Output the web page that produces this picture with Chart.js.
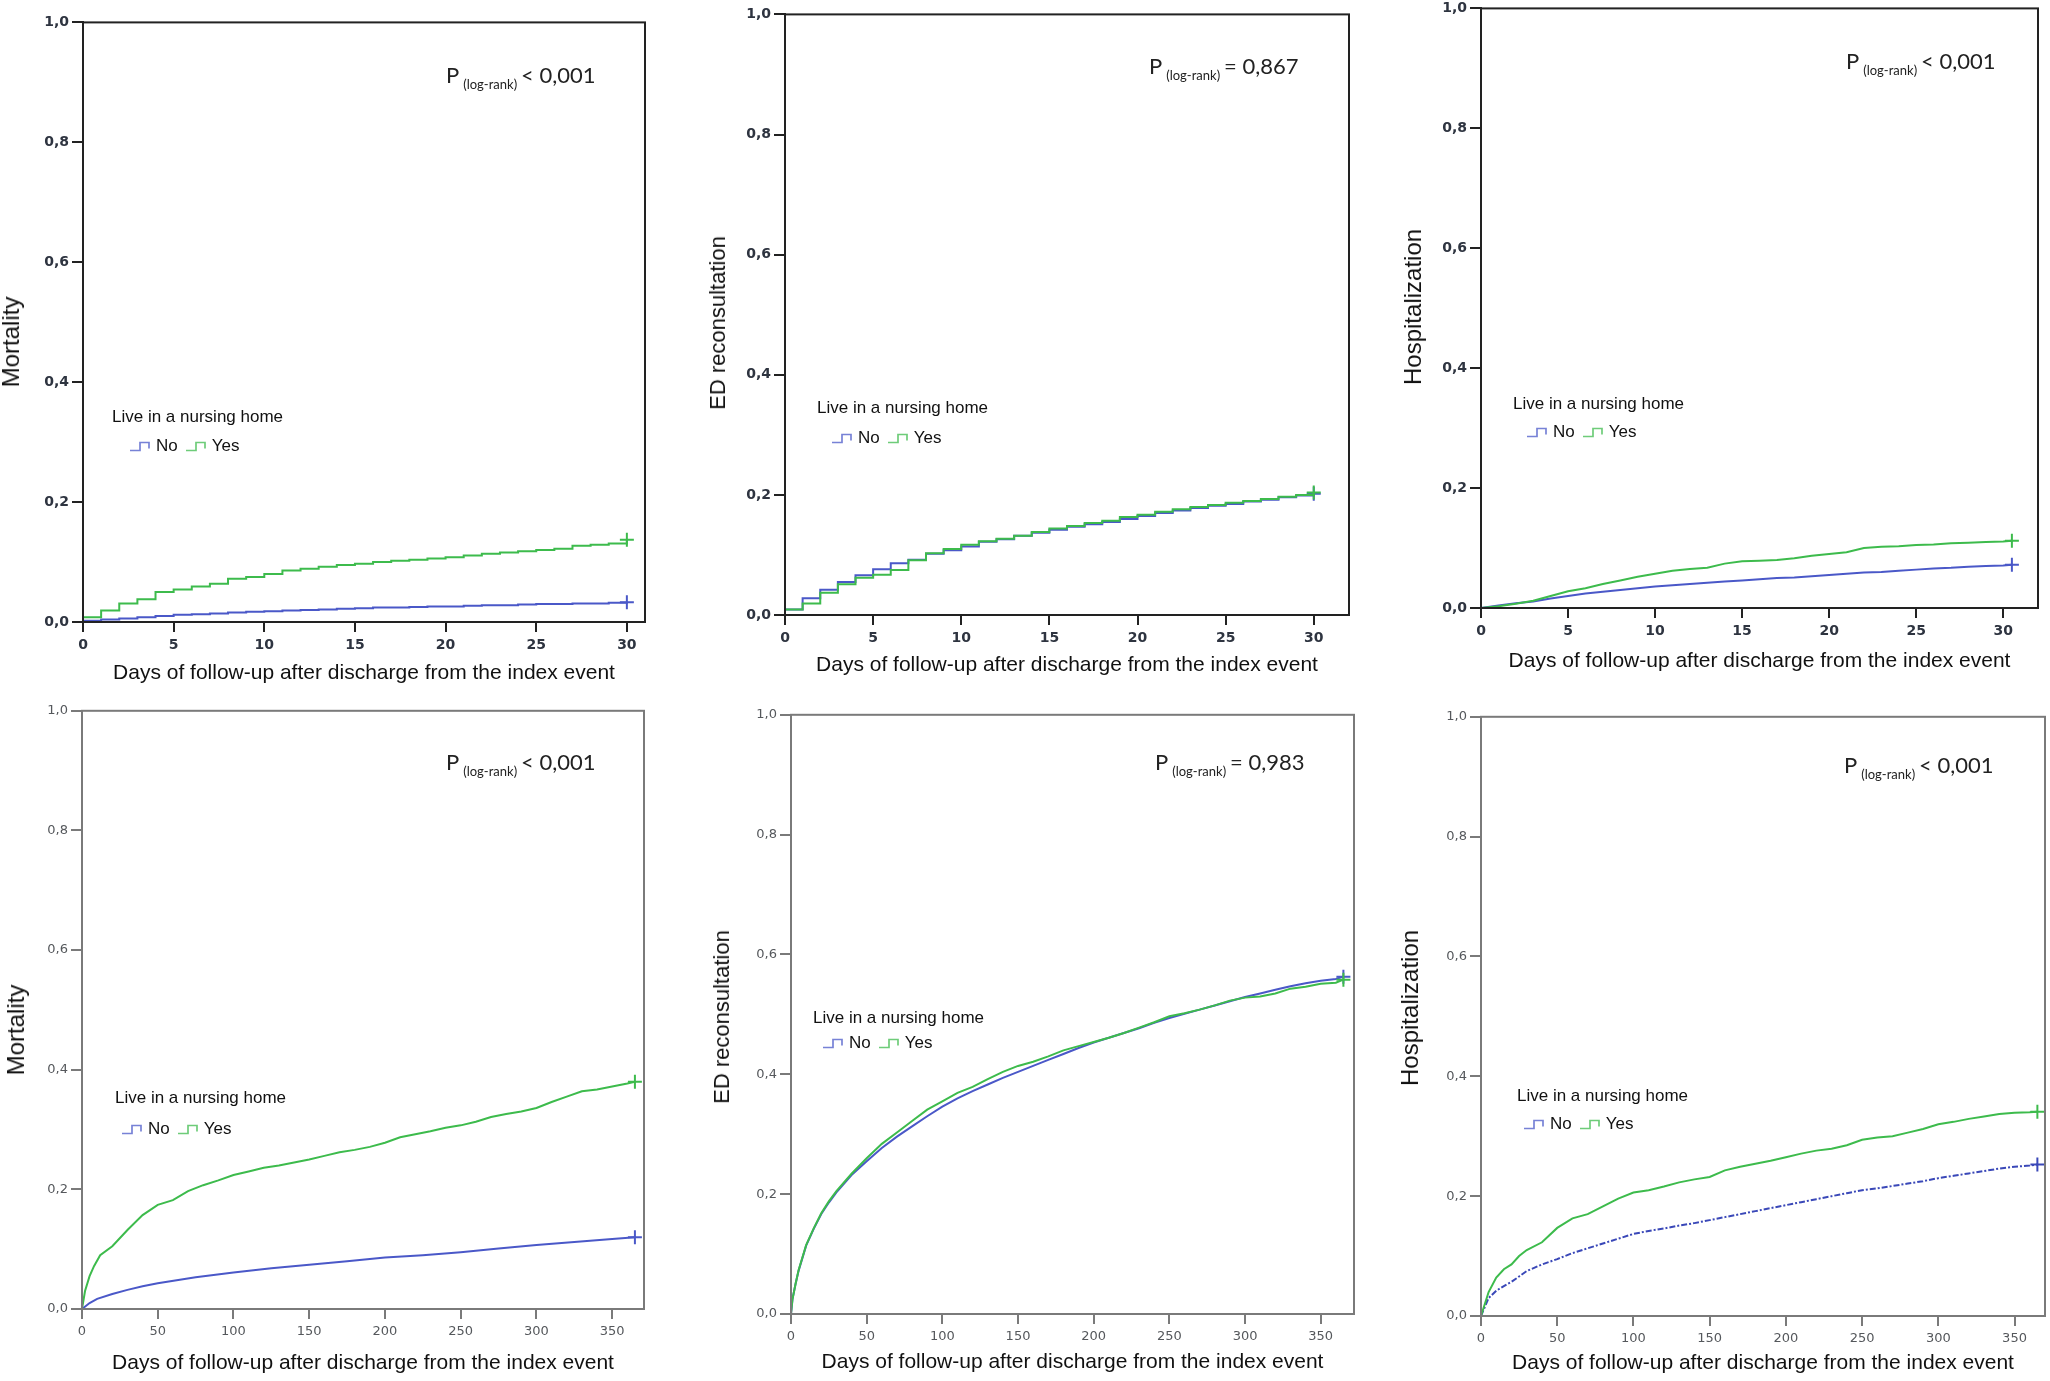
<!DOCTYPE html>
<html>
<head>
<meta charset="utf-8">
<script src="https://cdn.jsdelivr.net/npm/chart.js@4.4.1/dist/chart.umd.min.js"></script>
<style>
body{margin:0;width:2050px;height:1381px;background:#fff;position:relative;overflow:hidden;font-family:"Liberation Sans",Arial,sans-serif}
.panel{position:absolute}
.pval{position:absolute;font-family:Lato,"Open Sans",sans-serif;font-size:22px;line-height:24px;color:#222;white-space:nowrap}
.pval sub{font-size:13px;vertical-align:-6px;margin:0 4px}
.legt,.legr{position:absolute;font-size:17px;line-height:20px;color:#111;white-space:nowrap}
.legr svg{vertical-align:-1px;margin-right:1px}
.legr span{margin-right:7px}
.ytitle{position:absolute;color:#111;white-space:nowrap;line-height:1;transform:translate(-50%,-50%) rotate(-90deg)}
</style>
</head>
<body>
<script>
const noColor = '#4a58c8'
const yesColor = '#3dbb4c'

// y tick labels (decimal comma)
const yTickLabels = ['0,0', '0,2', '0,4', '0,6', '0,8', '1,0']
const groups = ['No', 'Yes']

// 30-day follow-up
const days30 = [0,1,2,3,4,5,6,7,8,9,10,11,12,13,14,15,16,17,18,19,20,21,22,23,24,25,26,27,28,29,30]
const mort30No = [0.002,0.004,0.006,0.008,0.010,0.012,0.013,0.014,0.016,0.017,0.018,0.019,0.020,0.021,0.022,0.023,0.024,0.024,0.025,0.026,0.026,0.027,0.028,0.028,0.029,0.030,0.030,0.031,0.031,0.032,0.033]
const mort30Yes = [0.008,0.019,0.031,0.038,0.050,0.054,0.059,0.064,0.072,0.075,0.080,0.086,0.089,0.092,0.095,0.097,0.100,0.102,0.104,0.106,0.108,0.111,0.114,0.116,0.118,0.120,0.122,0.127,0.129,0.131,0.137]
const ed30No = [0.009,0.028,0.042,0.055,0.066,0.076,0.086,0.092,0.102,0.108,0.114,0.122,0.126,0.132,0.137,0.142,0.147,0.151,0.155,0.160,0.165,0.170,0.174,0.178,0.182,0.185,0.189,0.192,0.196,0.199,0.202]
const ed30Yes = [0.009,0.019,0.037,0.051,0.062,0.067,0.075,0.091,0.103,0.110,0.117,0.123,0.127,0.132,0.138,0.144,0.148,0.153,0.157,0.163,0.167,0.172,0.176,0.180,0.183,0.187,0.190,0.193,0.197,0.200,0.204]
const hosp30Days = [0,1,2,3,4,5,6,7,8,9,10,11,12,13,14,15,16,17,18,19,20,21,22,23,24,25,26,27,28,29,30,30.5]
const hosp30No = [0,0.004,0.008,0.011,0.016,0.020,0.024,0.027,0.030,0.033,0.036,0.038,0.040,0.042,0.044,0.046,0.048,0.050,0.051,0.053,0.055,0.057,0.059,0.060,0.062,0.064,0.066,0.067,0.069,0.070,0.071,0.072]
const hosp30Yes = [0,0.003,0.007,0.012,0.020,0.028,0.033,0.040,0.046,0.052,0.057,0.062,0.065,0.067,0.074,0.078,0.079,0.080,0.083,0.087,0.090,0.093,0.100,0.102,0.103,0.105,0.106,0.108,0.109,0.110,0.111,0.112]

// 1-year follow-up
const mortYearNoDays = [0,5,10,20,30,40,50,75,100,125,150,175,200,225,250,275,300,325,350,365]
const mortYearNo = [0,0.010,0.017,0.025,0.032,0.038,0.043,0.053,0.061,0.068,0.074,0.080,0.086,0.090,0.095,0.101,0.107,0.112,0.117,0.120]
const mortYearYesDays = [0,2,5,8,12,20,30,40,50,60,70,80,90,100,110,120,130,140,150,160,170,180,190,200,210,220,230,240,250,260,270,280,290,300,310,320,330,340,350,360,365]
const mortYearYes = [0,0.030,0.055,0.072,0.090,0.105,0.132,0.157,0.174,0.182,0.197,0.207,0.215,0.224,0.230,0.236,0.240,0.245,0.250,0.256,0.262,0.266,0.271,0.278,0.287,0.292,0.297,0.303,0.307,0.313,0.321,0.326,0.330,0.336,0.346,0.355,0.364,0.367,0.372,0.377,0.380]
const edYearDays = [0,1,3,5,10,15,20,25,30,40,50,60,70,80,90,100,110,120,130,140,150,160,170,180,190,200,210,220,230,240,250,260,270,280,290,300,310,320,330,340,350,360,365]
const edYearNo = [0,0.025,0.050,0.072,0.114,0.142,0.167,0.186,0.203,0.232,0.255,0.277,0.296,0.313,0.330,0.346,0.360,0.372,0.383,0.394,0.404,0.414,0.424,0.434,0.444,0.453,0.461,0.469,0.477,0.486,0.494,0.501,0.508,0.515,0.522,0.529,0.535,0.541,0.547,0.552,0.556,0.559,0.563]
const edYearYes = [0,0.025,0.050,0.073,0.115,0.143,0.168,0.188,0.205,0.234,0.260,0.284,0.303,0.322,0.341,0.355,0.369,0.379,0.392,0.404,0.414,0.421,0.430,0.440,0.447,0.454,0.461,0.469,0.478,0.487,0.497,0.502,0.508,0.515,0.523,0.528,0.530,0.535,0.543,0.546,0.551,0.553,0.558]
const hospYearDays = [0,5,10,15,20,25,30,40,50,60,70,80,90,100,110,120,130,140,150,160,170,180,190,200,210,220,230,240,250,260,270,280,290,300,310,320,330,340,350,360,365]
const hospYearNo = [0,0.030,0.042,0.050,0.057,0.066,0.075,0.086,0.095,0.105,0.113,0.121,0.129,0.137,0.142,0.146,0.151,0.155,0.160,0.165,0.170,0.175,0.180,0.185,0.190,0.195,0.200,0.205,0.210,0.213,0.217,0.221,0.225,0.230,0.234,0.238,0.242,0.246,0.249,0.251,0.253]
const hospYearYes = [0,0.040,0.064,0.078,0.086,0.100,0.110,0.123,0.147,0.163,0.170,0.183,0.196,0.206,0.210,0.216,0.223,0.228,0.232,0.243,0.249,0.254,0.259,0.265,0.271,0.276,0.279,0.285,0.294,0.298,0.300,0.306,0.312,0.320,0.324,0.329,0.333,0.337,0.339,0.340,0.341]

const panels = [
  {L:83, R:645, T:21, B:622, ytx:11, yty:342, xty:673, xmax:31, step:5, ylab:'Mortality', ysize:24, dark:true, stepped:'before',
   no:[days30, mort30No], yes:[days30, mort30Yes], p:'< 0,001', px:446, py:75, lx:112, ly:417, rx:129, ry:446},
  {L:785, R:1349, T:13, B:615, ytx:718, yty:323, xty:665, xmax:32, step:5, ylab:'ED reconsultation', ysize:22, dark:true, stepped:'before',
   no:[days30, ed30No], yes:[days30, ed30Yes], p:'= 0,867', px:1149, py:66, lx:817, ly:408, rx:831, ry:438},
  {L:1481, R:2038, T:7, B:608, ytx:1413, yty:307, xty:661, xmax:32, step:5, ylab:'Hospitalization', ysize:24, dark:true, stepped:false,
   no:[hosp30Days, hosp30No], yes:[hosp30Days, hosp30Yes], p:'< 0,001', px:1846, py:61, lx:1513, ly:404, rx:1526, ry:432},
  {L:82, R:644, T:710, B:1309, ytx:16, yty:1030, xty:1363, xmax:371, step:50, ylab:'Mortality', ysize:24, dark:false, stepped:false,
   no:[mortYearNoDays, mortYearNo], yes:[mortYearYesDays, mortYearYes], p:'< 0,001', px:446, py:762, lx:115, ly:1098, rx:121, ry:1129},
  {L:791, R:1354, T:714, B:1314, ytx:722, yty:1017, xty:1362, xmax:372, step:50, ylab:'ED reconsultation', ysize:22, dark:false, stepped:false,
   no:[edYearDays, edYearNo], yes:[edYearDays, edYearYes], p:'= 0,983', px:1155, py:762, lx:813, ly:1018, rx:822, ry:1043},
  {L:1481, R:2045, T:716, B:1316, ytx:1410, yty:1008, xty:1363, xmax:370, step:50, ylab:'Hospitalization', ysize:24, dark:false, stepped:false, dashNo:[6,2,2,2],
   no:[hospYearDays, hospYearNo], yes:[hospYearDays, hospYearYes], p:'< 0,001', px:1844, py:765, lx:1517, ly:1096, rx:1523, ry:1124}
]

const boxPlugin = {
  id:'box',
  afterDraw(chart, args, opts){
    const {ctx, chartArea:a} = chart
    ctx.save()
    ctx.strokeStyle = opts.color
    ctx.lineWidth = opts.width
    ctx.strokeRect(a.left, a.top, a.right - a.left, a.bottom - a.top)
    ctx.restore()
  }
}

function toPoints(xs, ys){
  return xs.map((x, i) => ({x:x, y:ys[i]}))
}

function curve(label, pair, color, p, dash){
  const n = pair[0].length
  return {
    label:label,
    data:toPoints(pair[0], pair[1]),
    borderColor:color,
    backgroundColor:color,
    borderWidth:2,
    borderDash:dash || [],
    stepped:p.stepped,
    tension:0,
    pointStyle:'cross',
    pointRadius:ctx => ctx.dataIndex === n - 1 ? 7 : 0,
    pointBorderWidth:2,
    pointHoverRadius:0
  }
}

function stepIcon(color){
  return '<svg width="26" height="13"><path d="M1 11.5 H11 V3.5 H20 V9.5" fill="none" stroke="' + color + '" stroke-opacity="0.75" stroke-width="1.7"/></svg>'
}

function addHtml(cls, x, y, html){
  const d = document.createElement('div')
  d.className = cls
  d.style.left = x + 'px'
  d.style.top = y + 'px'
  d.innerHTML = html
  document.body.appendChild(d)
  return d
}

function drawPanel(p){
  const yw = 90, xh = 80, pad = 10
  const left = p.L - yw, top = p.T - pad
  const w = p.R - p.L + yw + pad, h = p.B - p.T + pad + xh
  const div = document.createElement('div')
  div.className = 'panel'
  div.style.left = left + 'px'
  div.style.top = top + 'px'
  const cv = document.createElement('canvas')
  cv.width = w
  cv.height = h
  div.appendChild(cv)
  document.body.appendChild(div)

  const axisColor = p.dark ? '#222' : '#7a7a7a'
  const tickColor = p.dark ? '#2e3440' : '#55585c'
  const tickFont = p.dark
    ? {family:'DejaVu Sans', size:14, weight:'bold'}
    : {family:'DejaVu Sans', size:13, weight:'normal'}
  const xLh = 21 * 1.2
  const noLine = p.dashNo ? '#3a48b8' : noColor

  new Chart(cv, {
    type:'line',
    data:{
      datasets:[
        curve(groups[1], p.yes, yesColor, p),
        curve(groups[0], p.no, noLine, p, p.dashNo)
      ]
    },
    options:{
      responsive:false,
      animation:false,
      devicePixelRatio:1,
      layout:{padding:{top:pad, right:pad, left:0, bottom:0}},
      plugins:{
        legend:{display:false},
        tooltip:{enabled:false},
        box:{color:axisColor, width:2}
      },
      scales:{
        x:{
          type:'linear', min:0, max:p.xmax,
          afterFit:s => { s.height = xh },
          border:{display:true, color:axisColor, width:2},
          grid:{drawOnChartArea:false, drawTicks:true, tickLength:10, color:axisColor, lineWidth:2},
          ticks:{stepSize:p.step, includeBounds:false, padding:5, color:tickColor, maxRotation:0, font:tickFont},
          title:{display:true, text:'Days of follow-up after discharge from the index event', color:'#111',
                 font:{family:'Liberation Sans', size:21, lineHeight:1.2},
                 padding:{top:0, bottom:(p.B + xh) - p.xty - xLh / 2}}
        },
        y:{
          min:0, max:1,
          afterFit:s => { s.width = yw },
          border:{display:true, color:axisColor, width:2},
          grid:{drawOnChartArea:false, drawTicks:true, tickLength:11, color:axisColor, lineWidth:2},
          ticks:{stepSize:0.2, padding:3, color:tickColor,
                 callback:(v, i) => yTickLabels[i], font:tickFont}
        }
      }
    },
    plugins:[boxPlugin]
  })

  const yt = addHtml('ytitle', p.ytx, p.yty, p.ylab)
  yt.style.fontSize = p.ysize + 'px'
  addHtml('pval', p.px, p.py - 12, 'P<sub>(log-rank)</sub>' + p.p.replace('<', '&lt;'))
  addHtml('legt', p.lx, p.ly - 10, 'Live in a nursing home')
  addHtml('legr', p.rx, p.ry - 10, stepIcon(noColor) + '<span>' + groups[0] + '</span>' + stepIcon(yesColor) + '<span>' + groups[1] + '</span>')
}

panels.forEach(drawPanel)
</script>
</body>
</html>
